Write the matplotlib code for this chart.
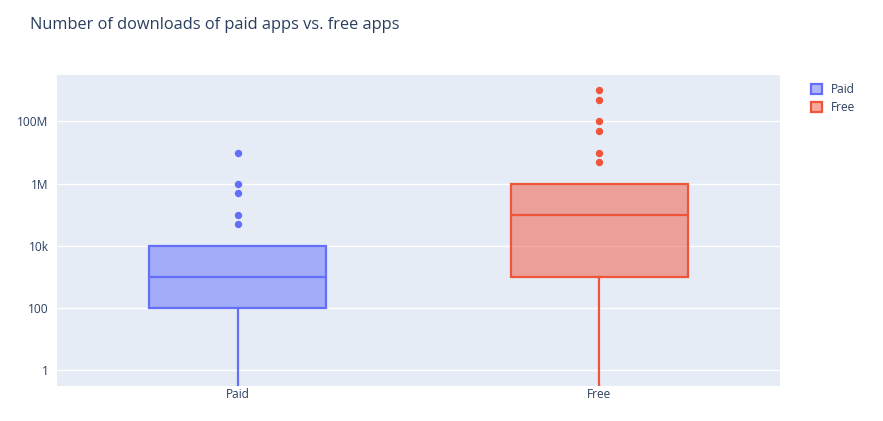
import matplotlib
matplotlib.use("Agg")
import matplotlib.pyplot as plt
from matplotlib.patches import Patch
from matplotlib.colors import to_rgba

# ---- data ----
categories = ["Paid", "Free"]
q1 = [100, 1000]
median = [1000, 100000]
q3 = [10000, 1000000]
whisker_low = [0, 0]
whisker_high = [10000, 1000000]
outliers = [
    [50000, 100000, 500000, 1000000, 10000000],
    [5000000, 10000000, 50000000, 100000000, 500000000, 1000000000],
]
colors = ["#636efa", "#EF553B"]
ytick_vals = [1, 100, 1e4, 1e6, 1e8]
ytick_labels = ["1", "100", "10k", "1M", "100M"]
title = "Number of downloads of paid apps vs. free apps"

plt.rcParams["font.family"] = ["Open Sans", "DejaVu Sans"]
text_color = "#2a3f5f"

fig = plt.figure(figsize=(8.83, 4.21), dpi=100)
ax = fig.add_axes([57 / 883, 1 - 385.7 / 421, (780 - 57) / 883, (385.7 - 75) / 421])
ax.set_facecolor("#E5ECF6")
ax.set_yscale("log")

for i, cat in enumerate(categories):
    stats = [dict(med=median[i], q1=q1[i], q3=q3[i], whislo=whisker_low[i],
                  whishi=whisker_high[i], fliers=outliers[i], label=cat)]
    c = colors[i]
    ax.bxp(stats, positions=[i], widths=0.49, patch_artist=True, showcaps=False,
           boxprops=dict(facecolor=to_rgba(c, 0.5), edgecolor=c, linewidth=1.6),
           medianprops=dict(color=c, linewidth=1.6),
           whiskerprops=dict(color=c, linewidth=1.6),
           flierprops=dict(marker="o", markerfacecolor=c, markeredgecolor=c,
                           markersize=4.3, linestyle="none"),
           manage_ticks=False, zorder=3)

ax.set_xlim(-0.5, 1.5)
ax.set_ylim(10 ** -0.495, 10 ** 9.495)
ax.set_xticks(range(len(categories)))
ax.set_xticklabels(categories)
ax.set_yticks(ytick_vals)
ax.set_yticklabels(ytick_labels)
ax.yaxis.set_minor_locator(matplotlib.ticker.NullLocator())
ax.tick_params(axis="y", length=0, labelsize=8.6, colors=text_color, pad=6)
ax.tick_params(axis="x", length=0, labelsize=8.6, colors=text_color, pad=2)
ax.grid(axis="y", color="white", linewidth=1, zorder=0)
ax.set_axisbelow(True)
for s in ax.spines.values():
    s.set_visible(False)

fig.text(30 / 883, 1 - 25 / 421, title, fontsize=11.8, color=text_color, va="center", ha="left")

handles = [Patch(facecolor=to_rgba(c, 0.5), edgecolor=c, linewidth=1.6, label=cat)
           for cat, c in zip(categories, colors)]
leg = fig.legend(handles=handles, loc="upper left", bbox_to_anchor=(800 / 883, 1 - 72 / 421),
                 frameon=False, fontsize=8.6, handlelength=0.9, handleheight=0.9,
                 handletextpad=0.8, labelspacing=0.45)
for t in leg.get_texts():
    t.set_color(text_color)

fig.savefig("out.png", dpi=100)
